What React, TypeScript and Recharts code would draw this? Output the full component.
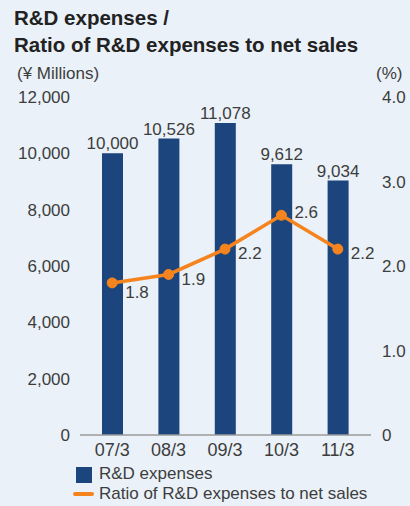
import { ComposedChart, Bar, Line, XAxis, YAxis, LabelList } from "recharts";

const categories = ["07/3", "08/3", "09/3", "10/3", "11/3"];
const expenses = [10000, 10526, 11078, 9612, 9034];
const ratio = [1.8, 1.9, 2.2, 2.6, 2.2];
const leftTicks = [0, 2000, 4000, 6000, 8000, 10000, 12000];
const rightTicks = [0, 1, 2, 3, 4];

const data = categories.map((cat, i) => ({ cat, expenses: expenses[i], ratio: ratio[i] }));

const BAR = "#1b457c";
const ORANGE = "#f5841f";
const TEXT = "#3d3d3d";
const FONT = "'Liberation Sans', Arial, sans-serif";

// small nudges so the ratio labels sit like the original
const ratioLabelDy = [10, 5, 4, -3, 4];

const RatioLabel = (props: any) => {
  const { x, y, value, index } = props;
  return (
    <text x={x + 13} y={y + ratioLabelDy[index]} fill={TEXT} fontSize={17} dominantBaseline="central" fontFamily={FONT}>
      {Number(value).toFixed(1)}
    </text>
  );
};

export default function App() {
  return (
    <div style={{ position: "absolute", left: 0, top: 0, width: 410, height: 506, background: "#eaf1f8", fontFamily: FONT, overflow: "hidden" }}>
      <div style={{ position: "absolute", left: 14, top: 4, fontSize: 20.5, fontWeight: "bold", lineHeight: "27px", color: "#222", whiteSpace: "nowrap" }}>
        R&amp;D expenses /<br />Ratio of R&amp;D expenses to net sales
      </div>
      <div style={{ position: "absolute", left: 17, top: 64, fontSize: 17, lineHeight: "20px", color: TEXT }}>(¥ Millions)</div>
      <div style={{ position: "absolute", left: 376, top: 64, fontSize: 17, lineHeight: "20px", color: TEXT }}>(%)</div>

      <ComposedChart width={410} height={506} data={data} margin={{ top: 97, right: 0, bottom: 41, left: 20 }} style={{ position: "absolute", left: 0, top: 0, fontFamily: FONT }}>
        <XAxis
          dataKey="cat"
          height={30}
          padding={{ left: 4, right: 5 }}
          tickLine={false}
          axisLine={{ stroke: "#9a9a9a", strokeWidth: 1.5 }}
          tick={{ fill: TEXT, fontSize: 18 }}
          interval={0}
        />
        <YAxis
          yAxisId="left"
          width={60}
          domain={[0, 12000]}
          ticks={leftTicks}
          axisLine={false}
          tickLine={false}
          tickMargin={4}
          tick={{ fill: TEXT, fontSize: 17 }}
          tickFormatter={(v: number) => v.toLocaleString("en-US")}
        />
        <YAxis
          yAxisId="right"
          orientation="right"
          width={39}
          domain={[0, 4]}
          ticks={rightTicks}
          axisLine={false}
          tickLine={false}
          tickMargin={5}
          tick={{ fill: TEXT, fontSize: 17 }}
          tickFormatter={(v: number) => (v === 0 ? "0" : v.toFixed(1))}
        />
        <Bar yAxisId="left" dataKey="expenses" fill={BAR} barSize={21} isAnimationActive={false}>
          <LabelList
            dataKey="expenses"
            position="top"
            offset={4}
            fill={TEXT}
            fontSize={17}
            formatter={(v: any) => Number(v).toLocaleString("en-US")}
          />
        </Bar>
        <Line
          yAxisId="right"
          dataKey="ratio"
          stroke={ORANGE}
          strokeWidth={3.5}
          dot={{ r: 5, fill: ORANGE, stroke: ORANGE, strokeWidth: 1 }}
          activeDot={false}
          isAnimationActive={false}
        >
          <LabelList dataKey="ratio" content={RatioLabel} />
        </Line>
      </ComposedChart>

      <div style={{ position: "absolute", left: 76, top: 467, width: 16, height: 16, background: BAR }} />
      <div style={{ position: "absolute", left: 99, top: 464, fontSize: 17, lineHeight: "20px", color: TEXT }}>R&amp;D expenses</div>
      <div style={{ position: "absolute", left: 73, top: 492, width: 21, height: 4, borderRadius: 2, background: ORANGE }} />
      <div style={{ position: "absolute", left: 99, top: 484, fontSize: 17, lineHeight: "20px", color: TEXT }}>Ratio of R&amp;D expenses to net sales</div>
    </div>
  );
}
